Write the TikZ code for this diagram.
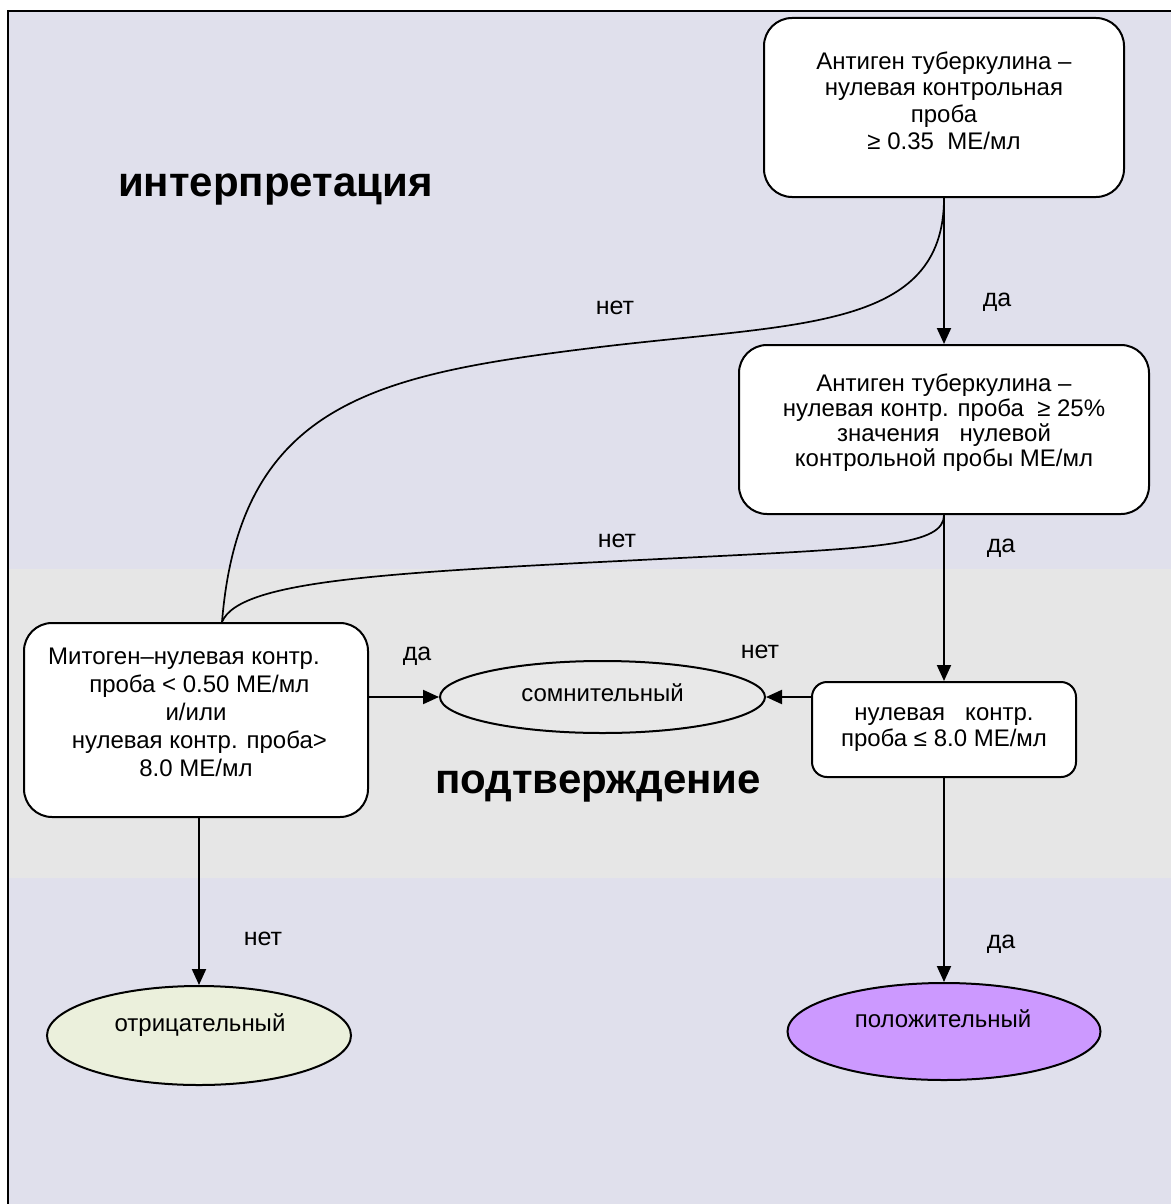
\documentclass[tikz,border=0pt]{standalone}
\usepackage{fontspec}
\setmainfont{Liberation Sans}
\usetikzlibrary{arrows.meta,shapes.geometric}
\definecolor{bgl}{RGB}{224,224,236}
\definecolor{bandg}{RGB}{230,230,230}
\definecolor{somnfill}{RGB}{232,232,232}
\definecolor{otrfill}{RGB}{235,240,220}
\definecolor{polfill}{RGB}{204,153,255}
\tikzset{
  boxs/.style={draw, line width=2pt, fill=white, rounded corners=28pt, inner sep=0pt},
  ell/.style={draw, ellipse, line width=2pt, inner sep=0pt},
  arr/.style={line width=2pt, -{Triangle[width=14pt,length=16pt]}},
  curv/.style={line width=1.7pt},
  lbl/.style={font=\fontsize{25}{30}\selectfont, anchor=base, inner sep=0pt},
  ttl/.style={font=\fontsize{42}{48}\selectfont\bfseries, anchor=base, inner sep=0pt},
  btxt/.style={align=center, inner sep=0pt, execute at begin node=\strut, execute at end node=\strut},
  etxt/.style={font=\fontsize{24}{28}\selectfont, anchor=base, inner sep=0pt}
}
\begin{document}
\begin{tikzpicture}[x=1pt,y=-1pt]
\useasboundingbox (0,0) rectangle (1171,1204);
% background
\fill[white] (0,0) rectangle (1171,1204);
\fill[bgl] (8,11) rectangle (1171,1204);
\fill[bandg] (8,569) rectangle (1171,878);
\draw[line width=2.6pt] (8,1204) -- (8,11) -- (1171,11);

% titles
\node[ttl] (title1) at (275.5,196.5) {интерпретация};
\node[ttl] (title2) at (598,793) {подтверждение};

% boxes
\node[boxs, minimum width=360pt, minimum height=179pt] (box1) at (944,107.5) {};
\node[boxs, minimum width=410pt, minimum height=169pt] (box2) at (944,429.5) {};
\node[boxs, minimum width=344pt, minimum height=194pt] (mito) at (196,720) {};
\node[boxs, rounded corners=15pt, minimum width=264pt, minimum height=95pt] (nul) at (944,729.5) {};

% ellipses
\node[ell, fill=somnfill, minimum width=325pt, minimum height=72pt] (somn) at (602.5,697) {};
\node[ell, fill=otrfill, minimum width=304pt, minimum height=99pt] (otr) at (199,1035.5) {};
\node[ell, fill=polfill, minimum width=313pt, minimum height=97pt] (pol) at (944,1031.5) {};

% box texts
\node[btxt, font=\fontsize{24}{26.7}\selectfont] (t1) at (944,104.5)
  {Антиген туберкулина –\\нулевая контрольная\\проба\\≥ 0.35\ \ МЕ/мл};
\node[btxt, font=\fontsize{24}{25}\selectfont] (t2) at (944,423.5)
  {Антиген туберкулина –\\нулевая контр. проба\ \ ≥ 25\%\\значения\ \ \ нулевой\\контрольной пробы МЕ/мл};
\node[btxt, font=\fontsize{24}{28}\selectfont] (t3) at (196,716)
  {Митоген–нулевая контр.\hspace*{24pt}\\\ проба < 0.50 МЕ/мл\\и/или\\\ нулевая контр. проба>\\8.0 МЕ/мл};
\node[btxt, font=\fontsize{24}{26}\selectfont] (t4) at (944,731)
  {нулевая\ \ \ контр.\\проба ≤ 8.0 МЕ/мл};

% ellipse texts
\node[etxt] (t5) at (602.5,701.5) {сомнительный};
\node[etxt] (t6) at (200,1031) {отрицательный};
\node[etxt] (t7) at (943,1027) {положительный};

% connector helper
\coordinate (mtop) at ([xshift=26pt]mito.north);

% curves (нет)
\draw[curv] (box1.south) .. controls (944,330) and (800,323) .. (600,347)
  .. controls (380,374) and (240,400) .. (mtop);
\draw[curv] (box2.south) .. controls (944,545) and (880,548) .. (700,557)
  .. controls (400,572) and (240,578) .. (mtop);

% arrows
\draw[arr] (box1.south) -- (box2.north);
\draw[arr] (box2.south) -- (nul.north);
\draw[arr] (nul.south) -- (pol.north);
\draw[arr] (mito.south -| otr.north) -- (otr.north);
\draw[arr] (mito.east |- somn.west) -- (somn.west);
\draw[arr] (nul.west |- somn.east) -- (somn.east);

% labels
\node[lbl] (l1) at (615,314) {нет};
\node[lbl] (l2) at (617,547) {нет};
\node[lbl] (l3) at (997,306.5) {да};
\node[lbl] (l4) at (1001,552.5) {да};
\node[lbl] (l5) at (417,660) {да};
\node[lbl] (l6) at (760,658) {нет};
\node[lbl] (l7) at (263,945) {нет};
\node[lbl] (l8) at (1001,948) {да};
\end{tikzpicture}
\end{document}
